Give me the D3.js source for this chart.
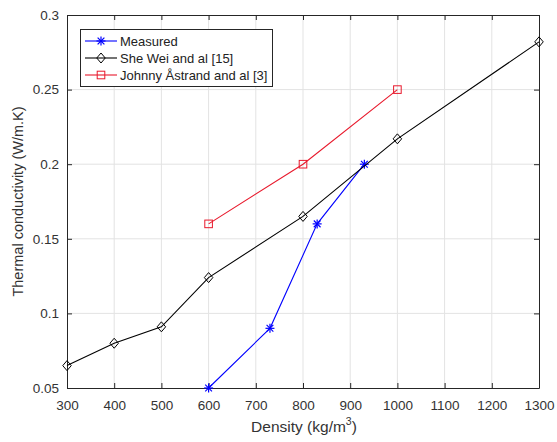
<!DOCTYPE html>
<html>
<head>
<meta charset="utf-8">
<script src="https://cdn.jsdelivr.net/npm/d3@7"></script>
<style>
  html, body { margin: 0; padding: 0; background: #fff; }
  svg { display: block; font-family: "Liberation Sans", Arial, sans-serif; }
</style>
</head>
<body>
<svg id="chart" width="557" height="442"></svg>
<script>
// Thermal conductivity vs density
const xTicks = [300, 400, 500, 600, 700, 800, 900, 1000, 1100, 1200, 1300];
const yTicks = [0.05, 0.1, 0.15, 0.2, 0.25, 0.3];
const yTickLabels = ["0.05", "0.1", "0.15", "0.2", "0.25", "0.3"];

const measuredDensity = [600, 730, 830, 930];
const measuredK = [0.05, 0.09, 0.16, 0.2];

const sheWeiDensity = [300, 400, 500, 600, 800, 1000, 1300];
const sheWeiK = [0.065, 0.08, 0.091, 0.124, 0.165, 0.217, 0.282];

const astrandDensity = [600, 800, 1000];
const astrandK = [0.16, 0.2, 0.25];

const seriesNames = ["Measured", "She Wei and al [15]", "Johnny Åstrand and al [3]"];

const margin = { left: 67, right: 18, top: 15, bottom: 54 };
const W = 557, H = 442;
const svg = d3.select("#chart");

const x = d3.scaleLinear().domain([300, 1300]).range([margin.left, W - margin.right]);
const y = d3.scaleLinear().domain([0.05, 0.3]).range([H - margin.bottom, margin.top]);

const x0 = x.range()[0], x1 = x.range()[1], y0 = y.range()[0], y1 = y.range()[1];

// grid
const grid = svg.append("g").attr("stroke", "#e3e3e3").attr("stroke-width", 1);
grid.selectAll("line.gx").data(xTicks.slice(1, -1)).join("line")
  .attr("x1", d => x(d)).attr("x2", d => x(d)).attr("y1", y0).attr("y2", y1);
grid.selectAll("line.gy").data(yTicks.slice(1, -1)).join("line")
  .attr("y1", d => y(d)).attr("y2", d => y(d)).attr("x1", x0).attr("x2", x1);

// axes with inward ticks
const tickColor = "#262626";
const xAxis = svg.append("g").attr("transform", `translate(0,${y0})`)
  .call(d3.axisBottom(x).tickValues(xTicks).tickSizeInner(-5).tickSizeOuter(0).tickPadding(12)
    .tickFormat(d3.format("d")));
const xAxisTop = svg.append("g").attr("transform", `translate(0,${y1})`)
  .call(d3.axisTop(x).tickValues(xTicks).tickSizeInner(-5).tickSizeOuter(0).tickFormat(""));
const yAxis = svg.append("g").attr("transform", `translate(${x0},0)`)
  .call(d3.axisLeft(y).tickValues(yTicks).tickSizeInner(-5).tickSizeOuter(0).tickPadding(8)
    .tickFormat((d, i) => yTickLabels[i]));
const yAxisRight = svg.append("g").attr("transform", `translate(${x1},0)`)
  .call(d3.axisRight(y).tickValues(yTicks).tickSizeInner(-5).tickSizeOuter(0).tickFormat(""));

[xAxis, xAxisTop, yAxis, yAxisRight].forEach(g => {
  g.select(".domain").attr("stroke", tickColor);
  g.selectAll(".tick line").attr("stroke", tickColor);
  g.selectAll(".tick text").attr("fill", "#333").attr("font-size", 13.5)
    .attr("font-family", "Liberation Sans, Arial, sans-serif");
});

// axis labels
svg.append("text")
  .attr("x", (x0 + x1) / 2 + 1).attr("y", 432)
  .attr("text-anchor", "middle").attr("fill", "#333").attr("font-size", 15.5)
  .html('Density (kg/m<tspan dy="-7" font-size="10.5">3</tspan><tspan dy="7">)</tspan>');

svg.append("text")
  .attr("transform", `translate(23,${(y0 + y1) / 2}) rotate(-90)`)
  .attr("text-anchor", "middle").attr("fill", "#333").attr("font-size", 14.5)
  .text("Thermal conductivity (W/m.K)");

const line = d3.line().x(d => x(d[0])).y(d => y(d[1]));

function zip(a, b) { return a.map((v, i) => [v, b[i]]); }

const measured = zip(measuredDensity, measuredK);
const sheWei = zip(sheWeiDensity, sheWeiK);
const astrand = zip(astrandDensity, astrandK);

const colors = ["#0000ff", "#000000", "#e8192c"];

function star(g, cx, cy, c) {
  const r = 4.5;
  const s = g.append("g").attr("stroke", c).attr("stroke-width", 1.2);
  s.append("line").attr("x1", cx - r).attr("x2", cx + r).attr("y1", cy).attr("y2", cy);
  s.append("line").attr("x1", cx).attr("x2", cx).attr("y1", cy - r).attr("y2", cy + r);
  const q = r * 0.75;
  s.append("line").attr("x1", cx - q).attr("x2", cx + q).attr("y1", cy - q).attr("y2", cy + q);
  s.append("line").attr("x1", cx - q).attr("x2", cx + q).attr("y1", cy + q).attr("y2", cy - q);
}
function diamond(g, cx, cy, c) {
  const r = 5;
  g.append("path").attr("d", `M${cx},${cy - r}L${cx + r * 0.85},${cy}L${cx},${cy + r}L${cx - r * 0.85},${cy}Z`)
    .attr("fill", "none").attr("stroke", c).attr("stroke-width", 1);
}
function square(g, cx, cy, c) {
  const r = 3.8;
  g.append("rect").attr("x", cx - r).attr("y", cy - r).attr("width", 2 * r).attr("height", 2 * r)
    .attr("fill", "none").attr("stroke", c).attr("stroke-width", 1);
}

const markers = [star, diamond, square];
const series = [measured, sheWei, astrand];

series.forEach((data, i) => {
  svg.append("path").datum(data).attr("d", line)
    .attr("fill", "none").attr("stroke", colors[i]).attr("stroke-width", 1.1);
  const g = svg.append("g");
  data.forEach(d => markers[i](g, x(d[0]), y(d[1]), colors[i]));
});

// legend
const lg = svg.append("g");
lg.append("rect").attr("x", 80.5).attr("y", 29.5).attr("width", 192).attr("height", 57)
  .attr("fill", "#fff").attr("stroke", "#262626").attr("stroke-width", 1);
seriesNames.forEach((name, i) => {
  const ly = 41 + i * 17;
  lg.append("line").attr("x1", 85).attr("x2", 117).attr("y1", ly).attr("y2", ly)
    .attr("stroke", colors[i]).attr("stroke-width", 1.1);
  markers[i](lg, 101, ly, colors[i]);
  lg.append("text").attr("x", 120).attr("y", ly + 4.5).attr("fill", "#222")
    .attr("font-size", 13).text(name);
});
</script>
</body>
</html>
